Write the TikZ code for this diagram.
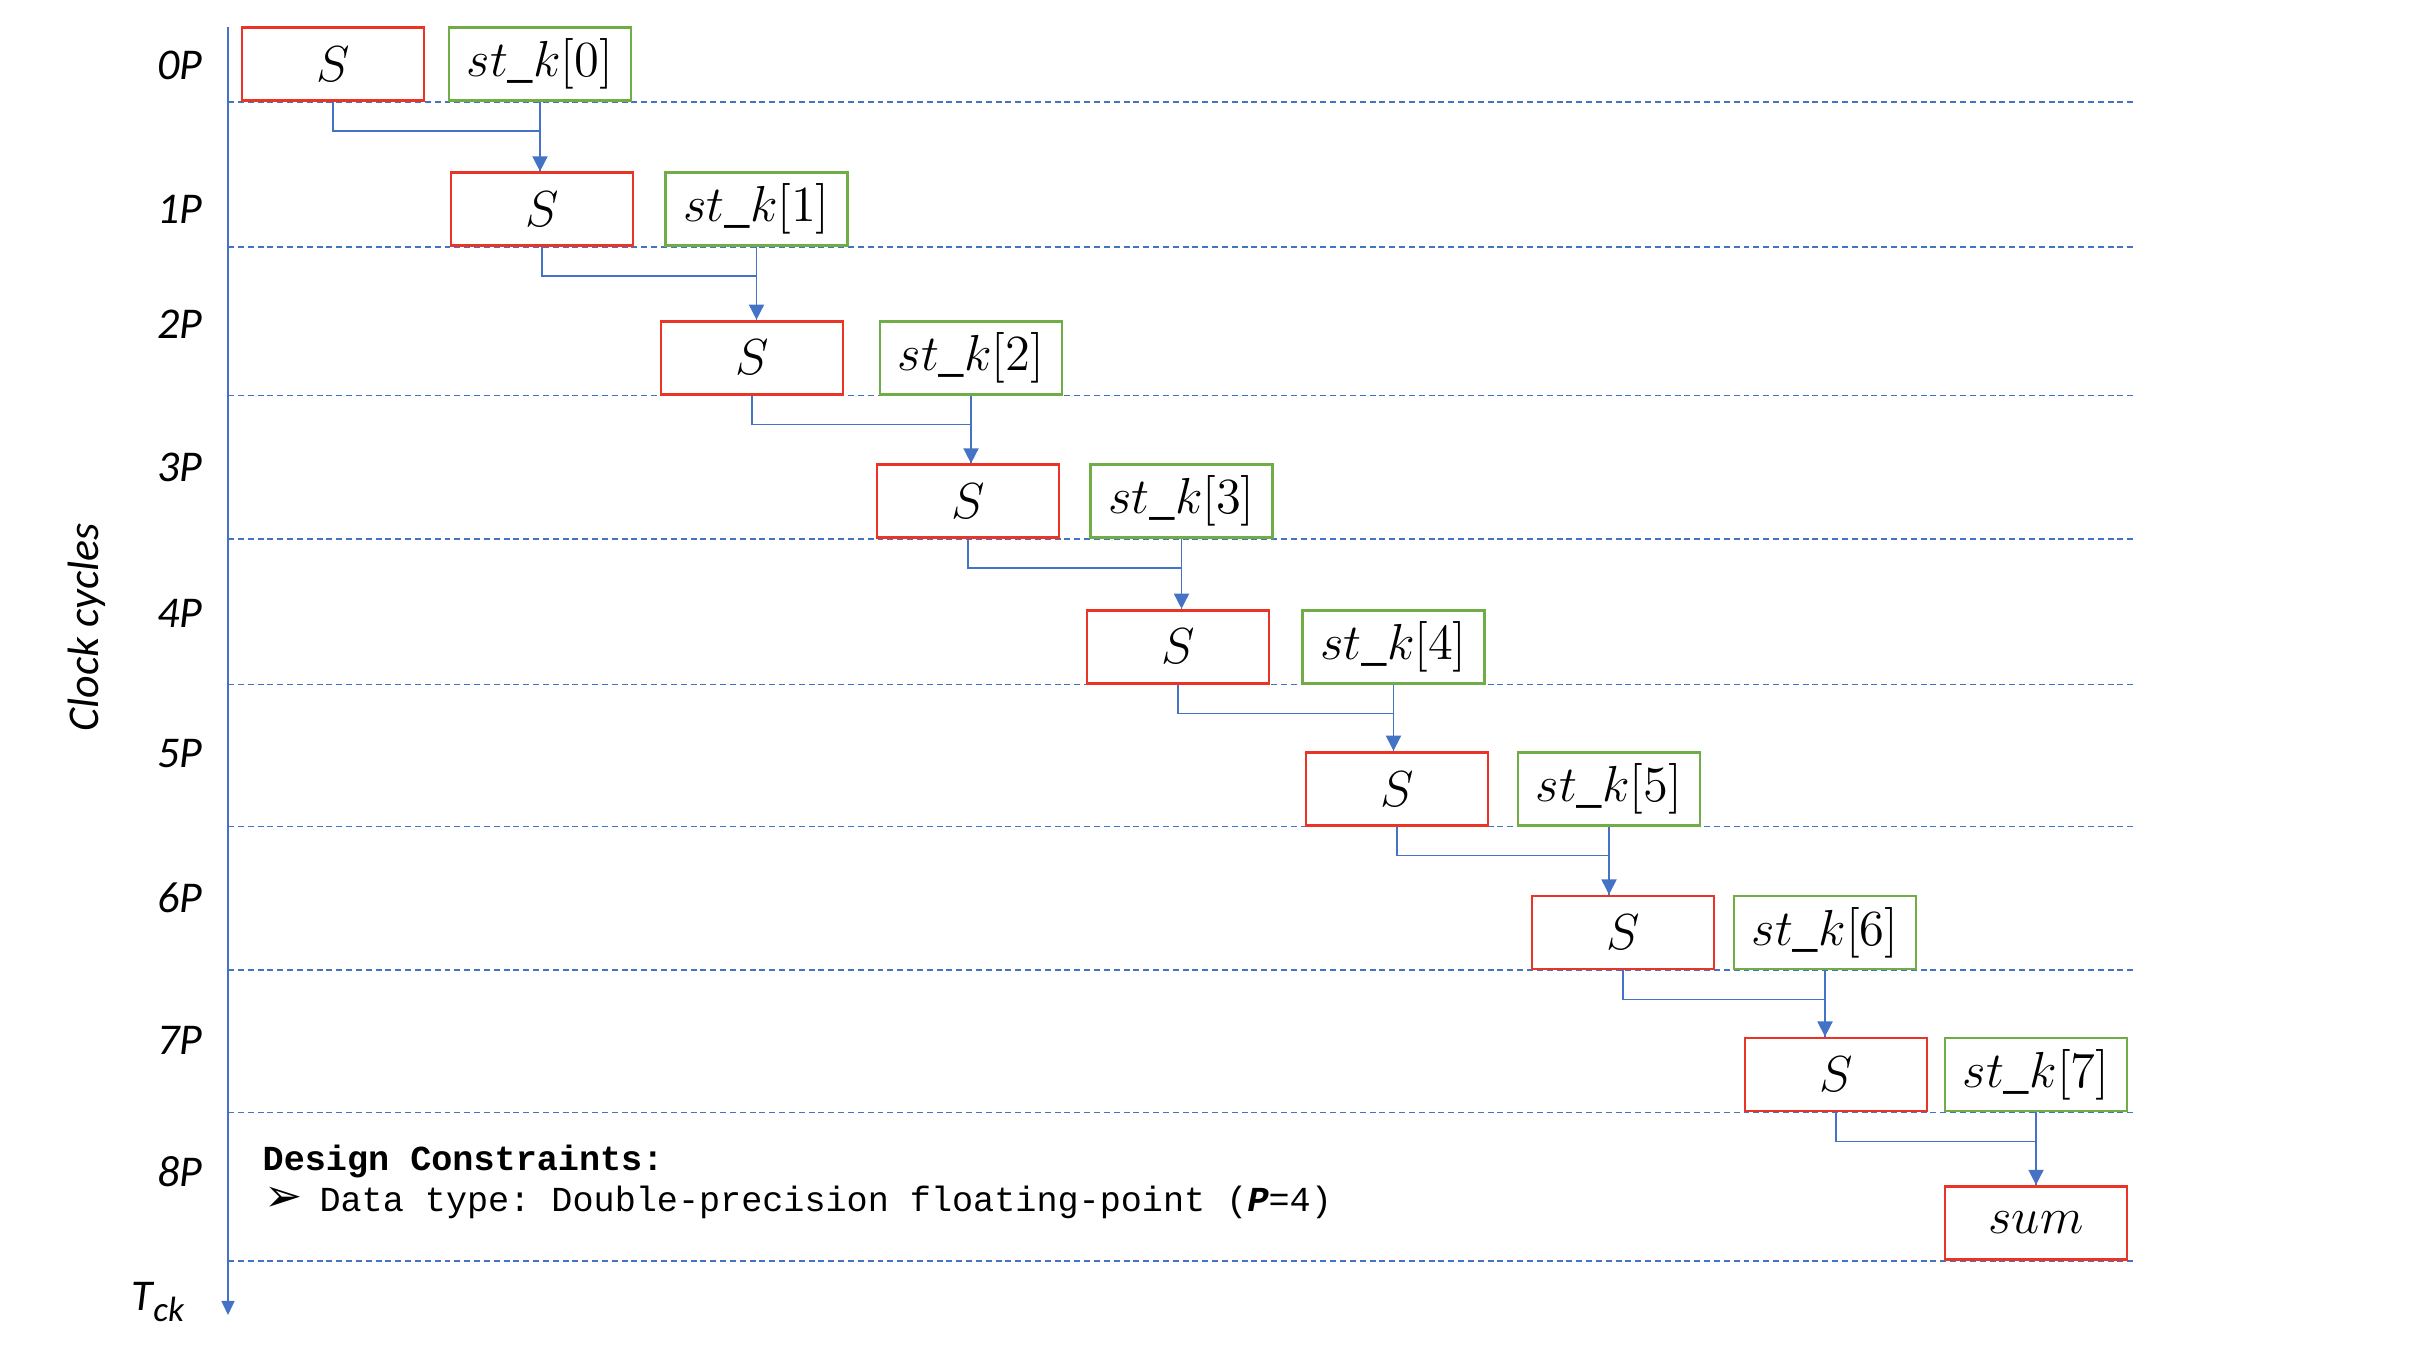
\documentclass[tikz,border=0pt]{standalone}
\usepackage{fontspec}
\setmainfont{Carlito}
\setmonofont{Liberation Mono}
\newfontfamily\dingfont{DejaVu Sans}
\usetikzlibrary{arrows.meta,positioning}

\definecolor{axisblue}{RGB}{68,114,196}
\definecolor{boxred}{RGB}{233,52,38}
\definecolor{boxgreen}{RGB}{112,173,71}

\tikzset{
    sbox/.style={draw=boxred, line width=0.8pt, fill=white, minimum width=1.82cm,
        minimum height=0.73cm, inner sep=0pt, anchor=south, font=\fontsize{14.6}{17}\selectfont},
    stbox/.style={sbox, draw=boxgreen},
    lbl/.style={font=\fontsize{12.5}{15}\selectfont\itshape},
    rowline/.style={axisblue, line width=0.5pt, dash pattern=on 1.7pt off 1.1pt},
    wire/.style={axisblue, line width=0.45pt},
    tip/.style={-{Triangle[width=4.3pt,length=4.3pt]}}
}

\begin{document}
\begin{tikzpicture}
    \useasboundingbox (0,0) rectangle (24.16,-13.62);

    \coordinate (top) at (2.28,-0.27);
    \coordinate (bot) at (2.28,-13.15);
    \draw[wire, -{Triangle[width=3.7pt,length=4pt]}] (top) -- (bot);

    \foreach \y in {1.020,2.472,3.955,5.392,6.845,8.266,9.703,11.124,12.607}
        \draw[rowline] (2.28,-\y) -- (21.35,-\y);

    \foreach \k/\x/\nx/\y in {0/3.33/5.40/1.020, 1/5.42/7.565/2.472, 2/7.52/9.71/3.955,
                              3/9.68/11.815/5.392, 4/11.78/13.935/6.845, 5/13.97/16.09/8.266,
                              6/16.23/18.25/9.703, 7/18.36/20.36/11.124} {
        \node[sbox] (S\k) at (\x,-\y) {$S$};
        \node[stbox] (st\k) at (\nx,-\y) {$st\_k[\k]$};
    }
    \node[sbox] (S8) at (20.36,-12.607) {$sum$};

    \foreach \k in {0,...,7} {
        \pgfmathtruncatemacro\n{\k+1}
        \draw[wire] (st\k.south) -- (st\k.south |- S\n.north);
        \draw[wire, tip] (S\k.south) -- ++(0,-0.29) -| (st\k.south |- S\n.north);
    }

    \foreach \k/\y in {0/0.65, 1/2.09, 2/3.24, 3/4.67, 4/6.13, 5/7.54, 6/8.98, 7/10.40, 8/11.72}
        \node[lbl] (c\k) at (1.80,-\y) {\k P};

    \node[lbl, rotate=90] (clk) at (0.87,-6.27) {Clock cycles};
    \node[lbl] (tck) at (1.58,-13.02) {T\raisebox{-0.5ex}{\fontsize{10}{12}\selectfont ck}};

    \node[anchor=west, inner sep=0pt, font=\fontsize{10}{12}\selectfont\ttfamily\bfseries]
        (dc) at (2.62,-11.61) {Design Constraints:};
    \node[anchor=west, inner sep=0pt, font=\fontsize{10}{12}\selectfont\ttfamily]
        (dt) at (2.64,-12.02) {\makebox[15.6pt][l]{\dingfont\fontsize{13}{14}\selectfont ➢}Data type: Double-precision floating-point (\textbf{\textit{P}}=4)};
\end{tikzpicture}
\end{document}
